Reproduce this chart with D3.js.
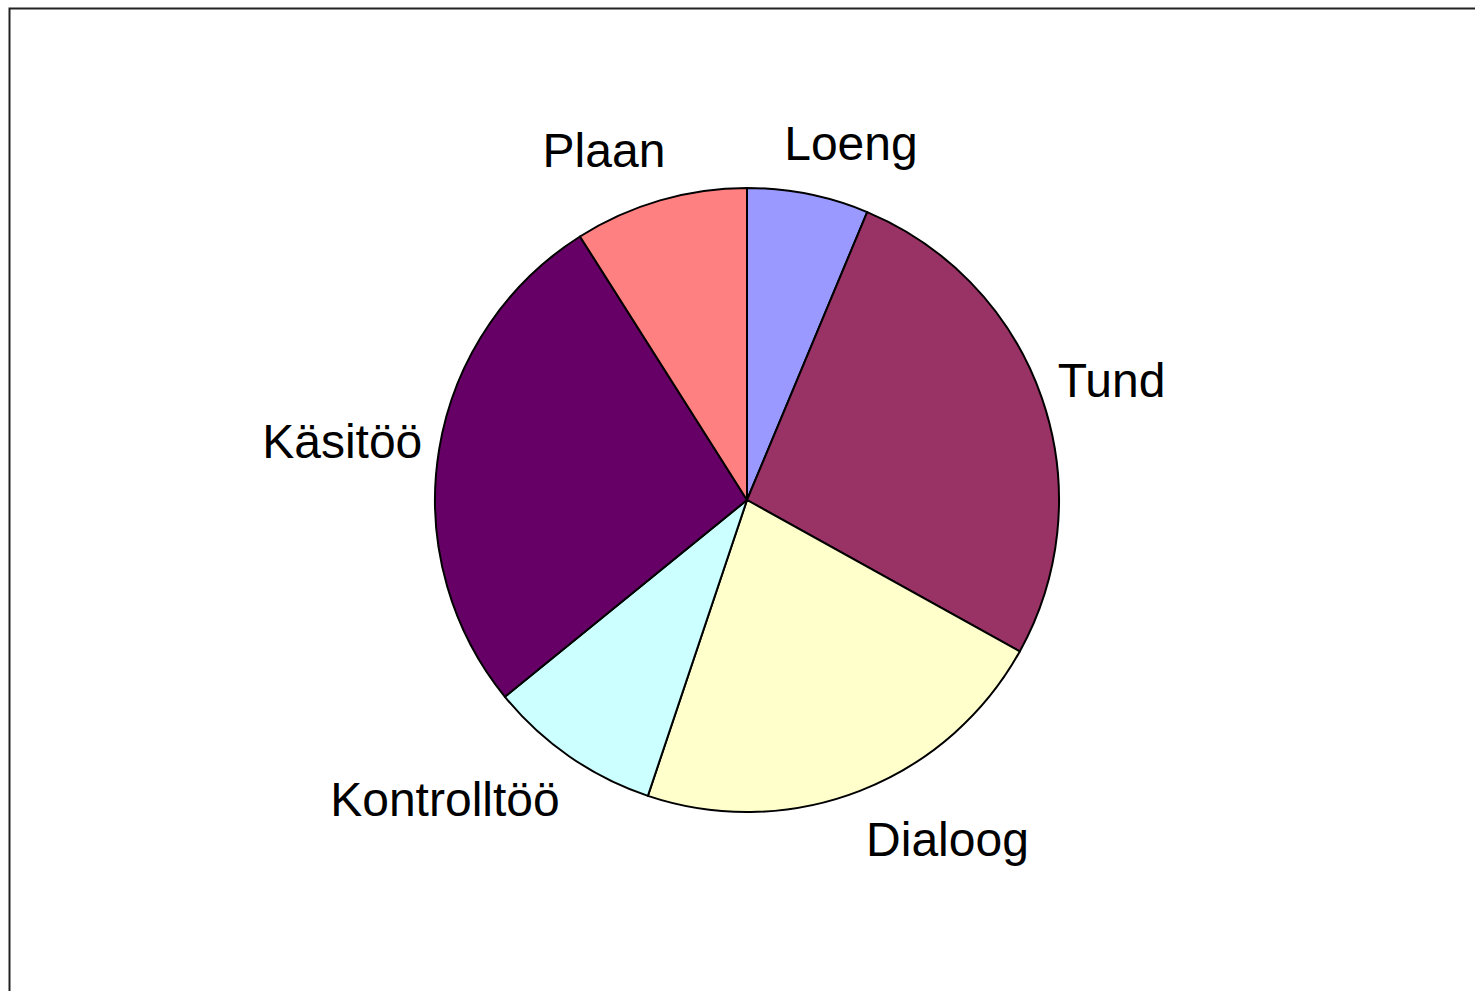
<!DOCTYPE html>
<html>
<head>
<meta charset="utf-8">
<script src="https://cdn.jsdelivr.net/npm/d3@7"></script>
<style>
  body { margin: 0; background: #fff; }
  svg { display: block; }
</style>
</head>
<body>
<div class="canva"></div>
<script>
// slice data, clockwise from 12 o'clock
const categories = ["Loeng", "Tund", "Dialoog", "Kontrolltöö", "Käsitöö", "Plaan"];
const shares = [6.3, 26.8, 22.1, 9.0, 26.9, 9.0];
const palette = ["#9999FF", "#993366", "#FFFFCC", "#CCFFFF", "#660066", "#FF8080"];

const W = 1475, H = 991;
const cx = 747, cy = 500, radius = 312;
const fontSize = 48;

const svg = d3.select(".canva").append("svg")
    .attr("width", W)
    .attr("height", H);

// chart area frame (only left and top edges are inside the window)
svg.append("rect")
    .attr("x", 9.5)
    .attr("y", 8.5)
    .attr("width", W + 20)
    .attr("height", H + 20)
    .attr("fill", "#fff")
    .attr("stroke", "#222")
    .attr("stroke-width", 2);

const data = categories.map((name, i) => ({name, value: shares[i], color: palette[i]}));

const pie = d3.pie()
    .sort(null)
    .value(d => d.value);

const arc = d3.arc()
    .innerRadius(0)
    .outerRadius(radius);

const graph = svg.append("g")
    .attr("transform", `translate(${cx}, ${cy})`);

const arcs = pie(data);

graph.selectAll("path")
    .data(arcs)
    .enter()
    .append("path")
    .attr("d", arc)
    .attr("fill", d => d.data.color)
    .attr("stroke", "#000")
    .attr("stroke-width", 2)
    .attr("stroke-linejoin", "round");

// labels: nearest side of the text box sits on the mid-angle ray just outside the pie
const gapX = 17, gapY = 28;

graph.selectAll(".label")
    .data(arcs)
    .enter()
    .append("text")
    .attr("class", "label")
    .style("font-family", "Arial, 'Liberation Sans', sans-serif")
    .style("font-size", fontSize + "px")
    .style("fill", "#000")
    .attr("text-anchor", "middle")
    .text(d => d.data.name)
    .each(function(d) {
        const a = (d.startAngle + d.endAngle) / 2;
        const s = Math.sin(a), c = -Math.cos(a);
        const w = this.getComputedTextLength();
        const h = fontSize;
        const sx = Math.max(-1, Math.min(1, s * 3));
        const sy = Math.max(-1, Math.min(1, c));
        const px = (radius + gapX) * s, py = (radius + gapY) * c;
        d3.select(this)
            .attr("x", px + sx * w / 2)
            .attr("y", py + sy * h / 2 + fontSize * 0.35);
    });
</script>
</body>
</html>
